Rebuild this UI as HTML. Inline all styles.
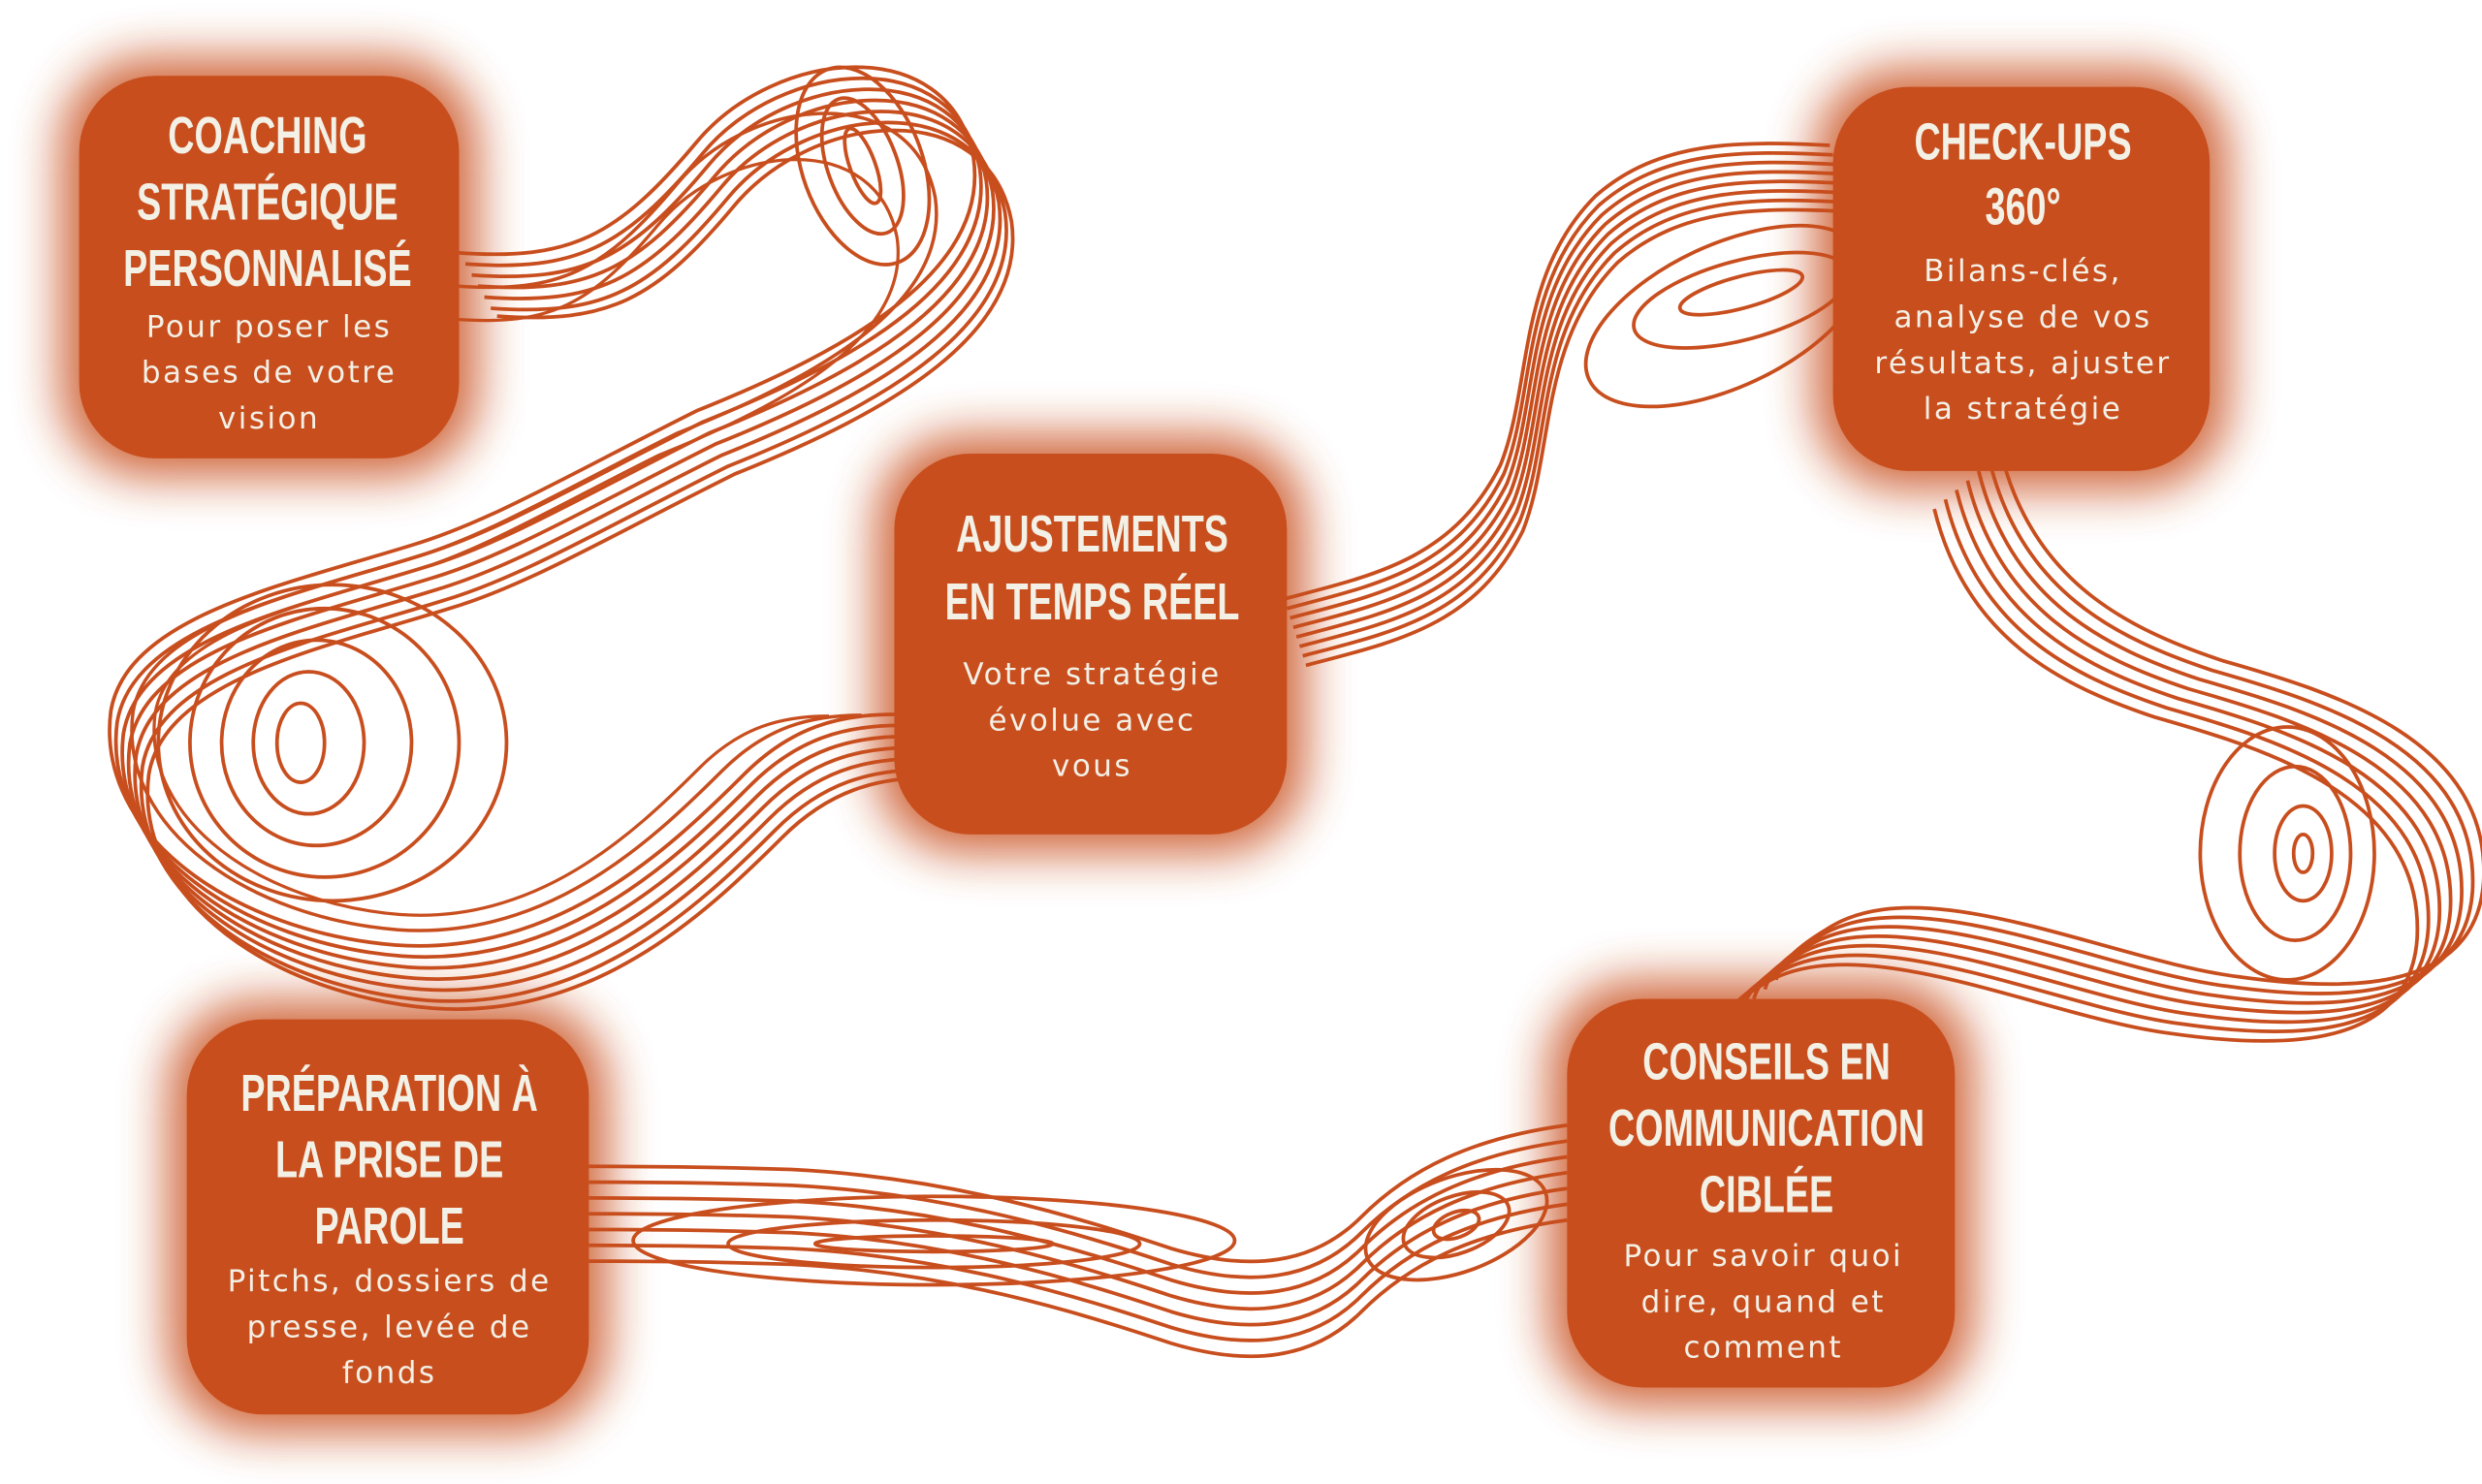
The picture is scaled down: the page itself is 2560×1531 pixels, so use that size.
<!DOCTYPE html>
<html><head><meta charset="utf-8"><style>
html,body{margin:0;padding:0;background:#fff;width:2560px;height:1531px;overflow:hidden}
svg{display:block}
.h{font-family:"Liberation Sans",sans-serif;font-weight:bold;fill:#f3f0e6;font-size:33px;text-anchor:middle}
.b{font-family:"DejaVu Sans","Liberation Sans",sans-serif;fill:#f3f0e6;font-size:19px;letter-spacing:1.5px;text-anchor:middle}
</style></head><body>
<svg width="2560" height="1531" viewBox="0 0 1568 939" preserveAspectRatio="none" xmlns="http://www.w3.org/2000/svg">
<defs>
<filter id="g" x="-40%" y="-40%" width="180%" height="180%"><feGaussianBlur stdDeviation="15"/></filter>
<path id="sA" d="M290 160 C360 165 390 150 440 90 C490 30 600 20 615 100 C625 170 540 220 440 260 C360 300 310 330 260 345 C180 370 80 390 70 450 C60 530 150 590 250 598 C350 605 420 540 470 490 C500 460 530 452 565 452"/>
<path id="sB" d="M813 385 C870 370 920 360 950 300 C970 250 960 180 1010 130 C1050 95 1100 95 1158 98"/>
<path id="sC" d="M1250 298 C1270 380 1330 410 1390 430 C1460 450 1560 480 1555 570 C1550 640 1470 640 1400 630 C1320 620 1200 560 1140 600 C1115 615 1110 625 1108 632"/>
<path id="sD" d="M990 712 C930 720 890 740 860 770 C830 800 790 805 740 790 C680 770 600 745 500 740 C440 738 400 738 372 738"/>
</defs>
<g fill="none" stroke="#c84e1e" stroke-width="2.3">
<use href="#sA"/><use href="#sA" transform="translate(4,7)"/><use href="#sA" transform="translate(8,14)"/><use href="#sA" transform="translate(12,21)"/><use href="#sA" transform="translate(16,28)"/><use href="#sA" transform="translate(20,35)"/><use href="#sA" transform="translate(24,40)"/>
<use href="#sA" transform="translate(270,460) scale(0.93) translate(-270,-460)"/>
<use href="#sA" transform="translate(270,460) scale(0.86) translate(-270,-460)"/>
<use href="#sB"/><use href="#sB" transform="translate(2,6)"/><use href="#sB" transform="translate(4,12)"/><use href="#sB" transform="translate(6,18)"/><use href="#sB" transform="translate(8,24)"/><use href="#sB" transform="translate(10,30)"/><use href="#sB" transform="translate(12,36)"/><use href="#sB" transform="translate(-2,-6)"/>
<use href="#sC"/><use href="#sC" transform="translate(-7,6)"/><use href="#sC" transform="translate(-14,12)"/><use href="#sC" transform="translate(-21,18)"/><use href="#sC" transform="translate(-28,24)"/><use href="#sC" transform="translate(7,-6)"/><use href="#sC" transform="translate(14,-12)"/>
<use href="#sD"/><use href="#sD" transform="translate(0,10)"/><use href="#sD" transform="translate(0,20)"/><use href="#sD" transform="translate(0,30)"/><use href="#sD" transform="translate(0,40)"/><use href="#sD" transform="translate(0,50)"/><use href="#sD" transform="translate(0,60)"/>
<ellipse cx="190" cy="470" rx="15" ry="25"/><ellipse cx="195" cy="470" rx="35" ry="45"/><ellipse cx="200" cy="470" rx="60" ry="65"/><ellipse cx="205" cy="470" rx="85" ry="85"/><ellipse cx="210" cy="470" rx="110" ry="100"/>
<ellipse cx="545" cy="105" rx="8" ry="25" transform="rotate(-20 545 105)"/><ellipse cx="545" cy="105" rx="22" ry="45" transform="rotate(-20 545 105)"/><ellipse cx="545" cy="105" rx="38" ry="65" transform="rotate(-20 545 105)"/>
<ellipse cx="1100" cy="185" rx="40" ry="10" transform="rotate(-15 1100 185)"/><ellipse cx="1100" cy="190" rx="70" ry="25" transform="rotate(-15 1100 190)"/><ellipse cx="1090" cy="200" rx="95" ry="45" transform="rotate(-25 1090 200)"/>
<ellipse cx="1455" cy="540" rx="6" ry="12"/><ellipse cx="1455" cy="540" rx="18" ry="30"/><ellipse cx="1450" cy="540" rx="35" ry="55"/><ellipse cx="1445" cy="540" rx="55" ry="80"/>
<ellipse cx="590" cy="787" rx="75" ry="5"/><ellipse cx="590" cy="787" rx="130" ry="15"/><ellipse cx="590" cy="785" rx="190" ry="28"/>
<ellipse cx="920" cy="775" rx="15" ry="8" transform="rotate(-20 920 775)"/><ellipse cx="920" cy="775" rx="35" ry="18" transform="rotate(-20 920 775)"/><ellipse cx="920" cy="775" rx="60" ry="30" transform="rotate(-20 920 775)"/>
</g>
<g fill="#c84e1e">
<g filter="url(#g)" opacity="0.85">
<rect x="38" y="36" width="264" height="266" rx="56"/>
<rect x="553" y="275" width="272" height="265" rx="56"/>
<rect x="1146" y="43" width="262" height="267" rx="56"/>
<rect x="978" y="620" width="269" height="270" rx="56"/>
<rect x="106" y="633" width="278" height="274" rx="56"/>
</g>
<rect x="50" y="48" width="240" height="242" rx="48"/>
<rect x="565" y="287" width="248" height="241" rx="48"/>
<rect x="1158" y="55" width="238" height="243" rx="48"/>
<rect x="990" y="632" width="245" height="246" rx="48"/>
<rect x="118" y="645" width="254" height="250" rx="48"/>
</g>
<g transform="translate(169,0) scale(0.7,1)"><text class="h" x="0" y="97">COACHING</text><text class="h" x="0" y="139">STRATÉGIQUE</text><text class="h" x="0" y="181">PERSONNALISÉ</text></g>
<text class="b" x="170" y="213">Pour poser les</text>
<text class="b" x="170" y="242">bases de votre</text>
<text class="b" x="170" y="271">vision</text>
<g transform="translate(690,0) scale(0.7,1)"><text class="h" x="0" y="349">AJUSTEMENTS</text><text class="h" x="0" y="392">EN TEMPS RÉEL</text></g>
<text class="b" x="690" y="433">Votre stratégie</text>
<text class="b" x="690" y="462">évolue avec</text>
<text class="b" x="690" y="491">vous</text>
<g transform="translate(1278,0) scale(0.7,1)"><text class="h" x="0" y="101">CHECK-UPS</text><text class="h" x="0" y="142">360°</text></g>
<text class="b" x="1278" y="178">Bilans-clés,</text>
<text class="b" x="1278" y="207">analyse de vos</text>
<text class="b" x="1278" y="236">résultats, ajuster</text>
<text class="b" x="1278" y="265">la stratégie</text>
<g transform="translate(1116,0) scale(0.7,1)"><text class="h" x="0" y="683">CONSEILS EN</text><text class="h" x="0" y="725">COMMUNICATION</text><text class="h" x="0" y="767">CIBLÉE</text></g>
<text class="b" x="1114" y="801">Pour savoir quoi</text>
<text class="b" x="1114" y="830">dire, quand et</text>
<text class="b" x="1114" y="859">comment</text>
<g transform="translate(246,0) scale(0.7,1)"><text class="h" x="0" y="703">PRÉPARATION À</text><text class="h" x="0" y="745">LA PRISE DE</text><text class="h" x="0" y="787">PAROLE</text></g>
<text class="b" x="246" y="817">Pitchs, dossiers de</text>
<text class="b" x="246" y="846">presse, levée de</text>
<text class="b" x="246" y="875">fonds</text>
</svg>
</body></html>
